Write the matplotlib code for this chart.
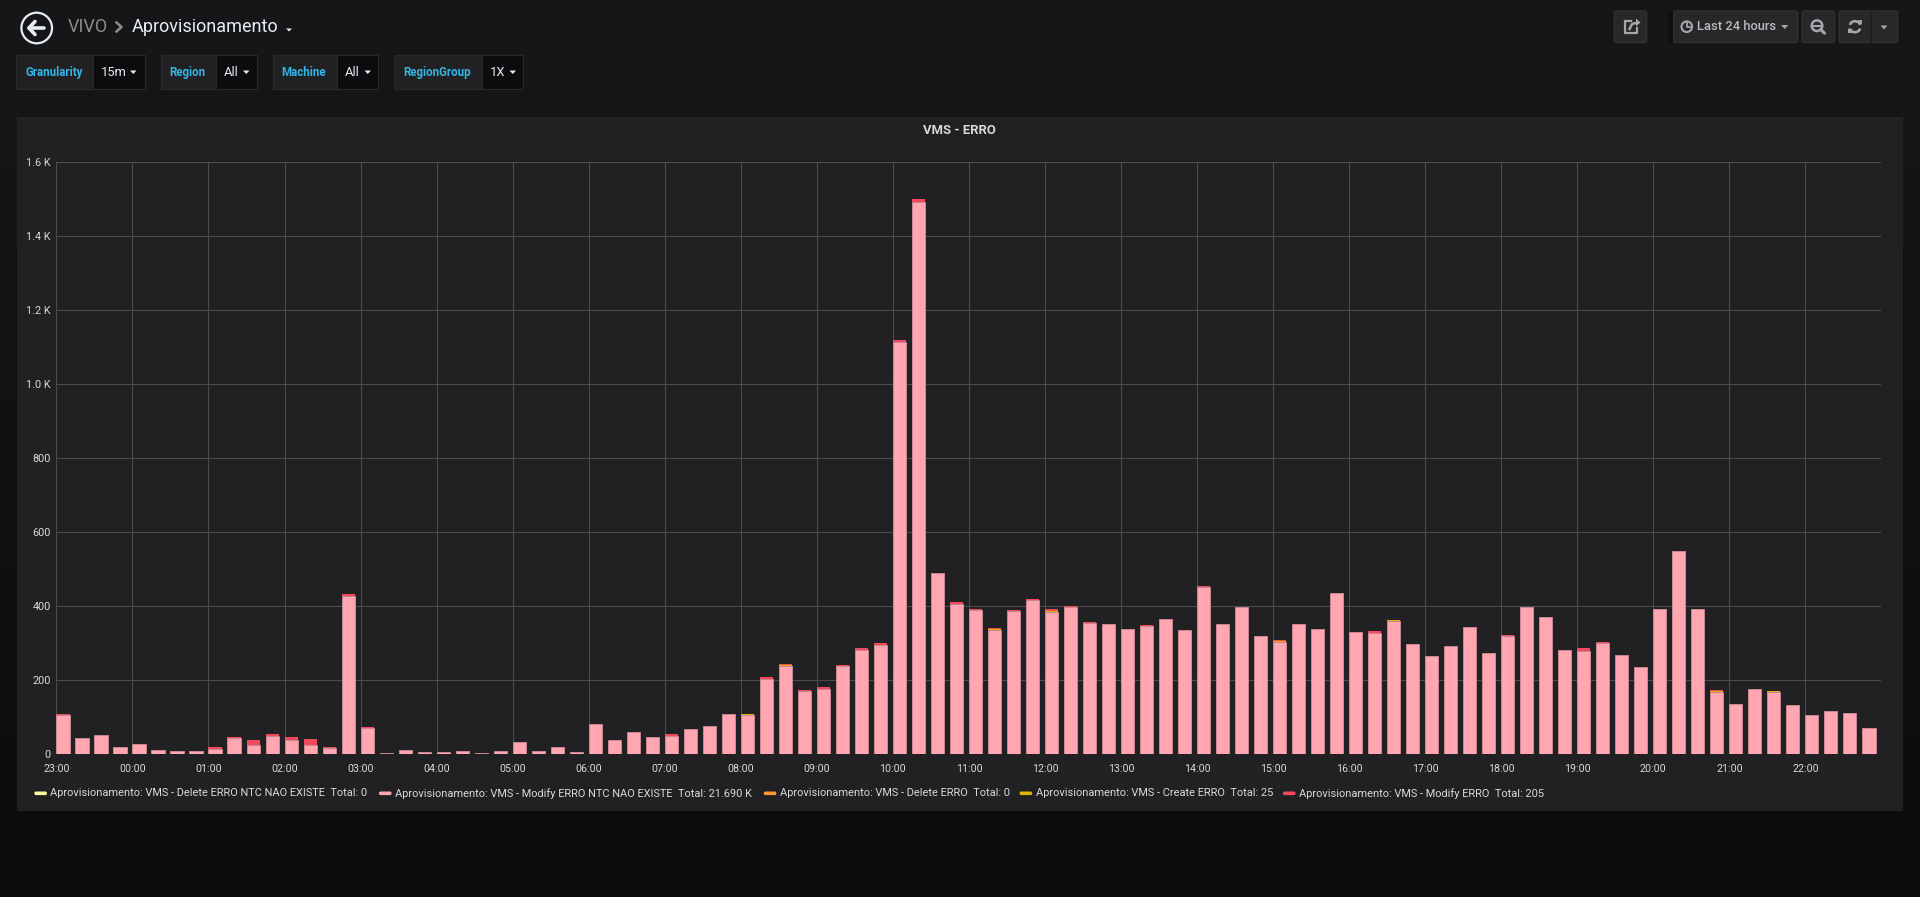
import matplotlib
matplotlib.use("Agg")
import matplotlib.pyplot as plt
from matplotlib.patches import Rectangle, Circle, Polygon, Arc, FancyBboxPatch
import numpy as np

plt.rcParams['font.family'] = ['Roboto', 'DejaVu Sans']

# one bar every 15 minutes, from 23:00 to 22:45 next day
hour_labels = ["23:00", "00:00", "01:00", "02:00", "03:00", "04:00", "05:00", "06:00",
               "07:00", "08:00", "09:00", "10:00", "11:00", "12:00", "13:00", "14:00",
               "15:00", "16:00", "17:00", "18:00", "19:00", "20:00", "21:00", "22:00"]

modify_ntc = [
    106, 44, 51, 19,      # 23h
    29, 12, 8, 10,        # 00h
    15, 43, 26, 49,       # 01h
    38, 26, 17, 427,      # 02h
    72, 4, 11, 6,         # 03h
    6, 9, 4, 8,           # 04h
    32, 9, 19, 6,         # 05h
    82, 39, 59, 48,       # 06h
    49, 69, 77, 108,      # 07h
    107, 203, 238, 172,   # 08h
    176, 238, 281, 295,   # 09h
    1115, 1494, 489, 405, # 10h
    391, 337, 387, 417,   # 11h
    385, 399, 355, 353,   # 12h
    340, 346, 366, 335,   # 13h
    453, 353, 397, 319,   # 14h
    304, 352, 340, 435,   # 15h
    330, 328, 361, 297,   # 16h
    265, 292, 344, 273,   # 17h
    319, 397, 372, 281,   # 18h
    278, 302, 268, 235,   # 19h
    394, 550, 394, 168,   # 20h
    136, 177, 169, 134,   # 21h
    105, 117, 112, 71,    # 22h
]

create_erro = [
    0, 0, 0, 0,  0, 0, 0, 0,  0, 0, 0, 0,  1, 0, 0, 2,   # 23h-02h
    0, 0, 0, 0,  0, 0, 0, 0,  0, 0, 0, 0,  0, 0, 0, 0,   # 03h-06h
    0, 0, 0, 0,  1, 0, 2, 0,  0, 0, 0, 0,  0, 0, 0, 0,   # 07h-10h
    0, 2, 0, 1,  3, 0, 0, 0,  0, 0, 0, 0,  0, 0, 0, 0,   # 11h-14h
    2, 0, 0, 0,  0, 0, 2, 2,  0, 0, 0, 1,  0, 0, 0, 0,   # 15h-18h
    2, 0, 0, 0,  0, 0, 0, 2,  0, 0, 2, 0,  0, 0, 0, 0,   # 19h-22h
]

modify_erro = [
    3, 1, 0, 0,  0, 0, 0, 0,  5, 5, 12, 5,  7, 14, 3, 5,   # 23h-02h
    1, 0, 0, 0,  0, 0, 0, 0,  0, 0, 0, 0,   0, 0, 0, 0,    # 03h-06h
    5, 0, 0, 0,  2, 5, 3, 2,  7, 2, 6, 7,   5, 6, 1, 6,    # 07h-10h
    2, 1, 2, 2,  5, 2, 2, 0,  2, 3, 0, 0,   2, 0, 0, 0,    # 11h-14h
    3, 1, 0, 2,  1, 5, 1, 0,  0, 1, 0, 1,   3, 0, 0, 0,    # 15h-18h
    6, 2, 1, 0,  0, 0, 0, 4,  0, 0, 0, 0,   0, 0, 0, 0,    # 19h-22h
]

delete_ntc = [0] * 96
delete_erro = [0] * 96

series_names = ["Aprovisionamento: VMS - Delete ERRO NTC NAO EXISTE",
                "Aprovisionamento: VMS - Modify ERRO NTC NAO EXISTE",
                "Aprovisionamento: VMS - Delete ERRO",
                "Aprovisionamento: VMS - Create ERRO",
                "Aprovisionamento: VMS - Modify ERRO"]
series_totals = ["0", "21.690 K", "0", "25", "205"]
series_colors = ["#FFF899", "#FFA6B0", "#FF9830", "#E0B400", "#F2495C"]

W, H = 1920, 897
fig = plt.figure(figsize=(W / 100, H / 100), dpi=100, facecolor="#0b0c0e")

# background layer in pixel coordinates
bg = fig.add_axes([0, 0, 1, 1], zorder=0)
bg.set_xlim(0, W)
bg.set_ylim(H, 0)
bg.axis("off")
grad = np.linspace(0, 1, 256).reshape(-1, 1)
c0 = np.array([0x16, 0x17, 0x19]) / 255
c1 = np.array([0x0b, 0x0c, 0x0e]) / 255
img = c0 + (c1 - c0) * grad[:, :, None]
bg.imshow(img, extent=[0, W, H, 0], aspect="auto", zorder=0)

# panel
bg.add_patch(Rectangle((17.3, 116.7), 1903 - 17.3, 811 - 116.7, facecolor="#212124", edgecolor="none", zorder=1))
bg.text(959.5, 131, "VMS - ERRO", color="#d8d9da", fontsize=9.4, fontweight="bold", ha="center", va="center", zorder=2)

# header: back button + breadcrumb
bg.add_patch(Circle((36.7, 28), 15.3, facecolor="none", edgecolor="#e9edf2", lw=1.6, zorder=2))
bg.plot([29, 44], [28, 28], color="#e9edf2", lw=2.6, solid_capstyle="round", zorder=3)
bg.plot([35, 29, 35], [21.5, 28, 34.5], color="#e9edf2", lw=2.6, solid_capstyle="round",
        solid_joinstyle="round", zorder=3)
bg.text(67.3, 27, "VIVO", color="#8e8e8e", fontsize=13, ha="left", va="center", zorder=2)
bg.plot([116.5, 121.5, 116.5], [22.5, 27, 31.5], color="#8e8e8e", lw=1.8, zorder=2)
bg.text(131.8, 27, "Aprovisionamento", color="#e9edf2", fontsize=13, ha="left", va="center", zorder=2)
bg.add_patch(Polygon([[286, 28.5], [292, 28.5], [289, 31.5]], closed=True, facecolor="#e9edf2",
                     edgecolor="none", zorder=2))

# template variables
var_boxes = [
    ("Granularity", "15m", 16.3, 93, 145.3, 25.3, 101, 130),
    ("Region", "All", 161.2, 215.5, 257.1, 169.4, 223.7, 243),
    ("Machine", "All", 273, 337.1, 378.4, 281.6, 345, 364.5),
    ("RegionGroup", "1X", 394.3, 482, 523.3, 402.9, 489.4, 509.5),
]
for name, val, x0, xm, x1, tx, vx, cx in var_boxes:
    bg.add_patch(Rectangle((x0, 55.3), xm - x0, 34, facecolor="#212124", edgecolor="#29292c", lw=0.8, zorder=2))
    bg.add_patch(Rectangle((xm, 55.3), x1 - xm, 34, facecolor="#0b0c0e", edgecolor="#29292c", lw=0.8, zorder=2))
    bg.text(tx, 72.5, name, color="#33b5e5", fontsize=8.3, fontweight="bold", ha="left", va="center", zorder=3)
    bg.text(vx, 72.5, val, color="#e9edf2", fontsize=9.3, ha="left", va="center", zorder=3)
    bg.add_patch(Polygon([[cx, 70.5], [cx + 6.5, 70.5], [cx + 3.25, 74]], closed=True,
                         facecolor="#e9edf2", edgecolor="none", zorder=3))

# right toolbar
btn_face, btn_edge, icon = "#28282a", "#333336", "#a4a6a9"
for x0, x1 in [(1614.3, 1646.7), (1673.3, 1797.7), (1802, 1834.7), (1839, 1897.7)]:
    bg.add_patch(FancyBboxPatch((x0, 11), x1 - x0, 31.7, boxstyle="round,pad=0,rounding_size=2",
                                facecolor=btn_face, edgecolor=btn_edge, lw=0.8, zorder=2))
bg.add_patch(Rectangle((1668, 11), 5, 31.7, facecolor="#0e0f11", edgecolor="none", zorder=2))
bg.plot([1870.7, 1870.7], [11, 42.7], color="#1c1c1e", lw=1, zorder=3)
# share icon
bg.plot([1631, 1625, 1625, 1637, 1637], [21, 21, 33, 33, 28], color=icon, lw=1.6, zorder=3)
bg.plot([1629.5, 1632, 1637.5], [29, 24, 22.5], color=icon, lw=1.8, zorder=3)
bg.add_patch(Polygon([[1636, 18.5], [1640.5, 22.5], [1636, 26.5]], closed=True, facecolor=icon,
                     edgecolor="none", zorder=3))
# time picker
bg.add_patch(Circle((1686.8, 26.7), 5.3, facecolor="none", edgecolor=icon, lw=1.5, zorder=3))
bg.plot([1686.8, 1686.8, 1689.5], [23.2, 27, 27], color=icon, lw=1.3, zorder=3)
bg.text(1696.7, 27, "Last 24 hours", color="#b9bbbe", fontsize=9.3, fontweight="medium", ha="left",
        va="center", zorder=3)
bg.add_patch(Polygon([[1781, 25], [1788.3, 25], [1784.65, 29]], closed=True, facecolor=icon,
                     edgecolor="none", zorder=3))
# zoom out
bg.add_patch(Circle((1817, 25.7), 5.3, facecolor="none", edgecolor=icon, lw=1.8, zorder=3))
bg.plot([1820.8, 1824.5], [29.5, 33.2], color=icon, lw=2.2, solid_capstyle="round", zorder=3)
bg.plot([1814.3, 1819.7], [25.7, 25.7], color=icon, lw=1.5, zorder=3)
# refresh
bg.add_patch(Arc((1855, 26.7), 11, 11, theta1=200, theta2=340, color=icon, lw=1.9, zorder=3))
bg.add_patch(Arc((1855, 26.7), 11, 11, theta1=20, theta2=160, color=icon, lw=1.9, zorder=3))
bg.add_patch(Polygon([[1857.5, 20.5], [1862, 20.5], [1862, 25]], closed=True, facecolor=icon,
                     edgecolor="none", zorder=3))
bg.add_patch(Polygon([[1852.5, 32.9], [1848, 32.9], [1848, 28.4]], closed=True, facecolor=icon,
                     edgecolor="none", zorder=3))
bg.add_patch(Polygon([[1880.5, 25.5], [1887.5, 25.5], [1884, 29.5]], closed=True, facecolor=icon,
                     edgecolor="none", zorder=3))

# legend
leg_marker_x = [34.4, 379, 763.8, 1019.6, 1283]
for i in range(5):
    mx = leg_marker_x[i]
    bg.add_patch(FancyBboxPatch((mx, 791.5), 12.5, 3.6, boxstyle="round,pad=0,rounding_size=1.5",
                                facecolor=series_colors[i], edgecolor="none", zorder=3))
    bg.text(mx + 16, 793.3, series_names[i] + "  Total: " + series_totals[i], color="#d8d9da",
            fontsize=7.9, ha="left", va="center", zorder=3)

# the graph itself
ax = fig.add_axes([56.4 / W, 1 - 754.3 / H, (1881.4 - 56.4) / W, (754.3 - 162.3) / H], zorder=1)
ax.set_facecolor("none")
x = np.arange(len(modify_ntc)) * 0.25
wid = 0.25 * 0.69

bottom = np.zeros(len(x))
stack = [delete_ntc, modify_ntc, delete_erro, create_erro, modify_erro]
for i, vals in enumerate(stack):
    vals = np.array(vals, dtype=float)
    if i == 1:
        ax.bar(x, vals, width=wid, bottom=bottom, align="edge", color=series_colors[i],
               edgecolor="#c98891", linewidth=0.7, zorder=2)
    else:
        ax.bar(x, vals, width=wid, bottom=bottom, align="edge", color=series_colors[i],
               linewidth=0, zorder=2)
    bottom = bottom + vals

ax.set_xlim(0, 24)
ax.set_ylim(0, 1600)
ax.set_xticks(np.arange(24))
ax.set_xticklabels(hour_labels)
ax.set_yticks(np.arange(0, 1601, 200))
ax.set_yticklabels(["0", "200", "400", "600", "800", "1.0 K", "1.2 K", "1.4 K", "1.6 K"])
ax.tick_params(axis="x", length=0, pad=7, labelsize=7.7, labelcolor="#d8d9da")
ax.tick_params(axis="y", length=0, pad=4, labelsize=7.8, labelcolor="#d8d9da")
for s in ax.spines.values():
    s.set_visible(False)
ax.set_axisbelow(True)
ax.grid(True, color="#4b4b4e", linewidth=0.8)

plt.savefig("out.png", dpi=100, facecolor=fig.get_facecolor())
